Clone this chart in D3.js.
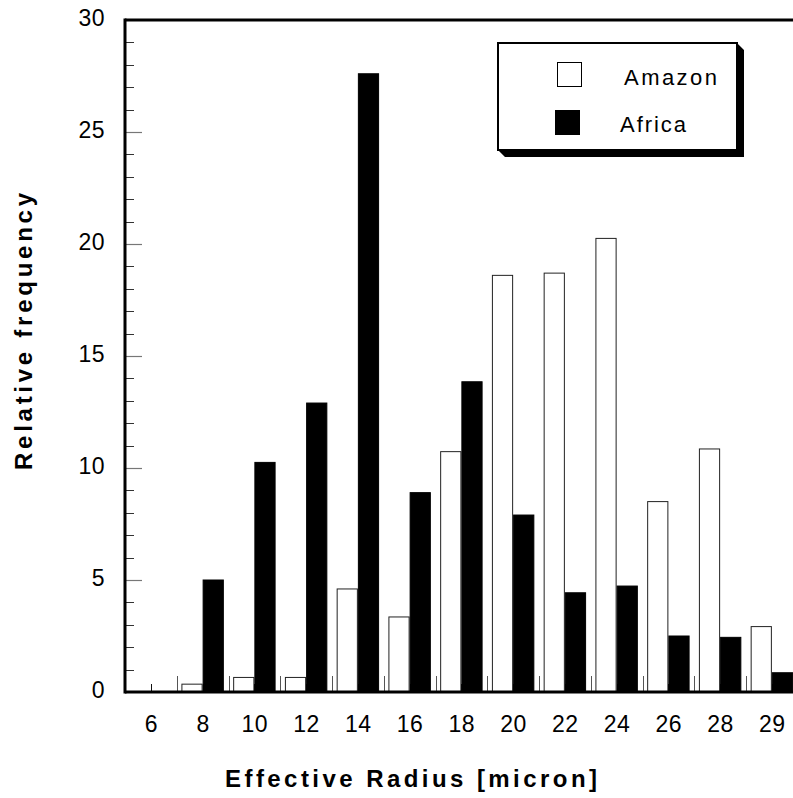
<!DOCTYPE html>
<html>
<head>
<meta charset="utf-8">
<script src="https://cdn.jsdelivr.net/npm/d3@7"></script>
<style>
  html, body { margin: 0; padding: 0; background: #fff; }
  svg { display: block; }
  text { font-family: "Liberation Sans", Arial, sans-serif; fill: #000; }
</style>
</head>
<body>
<svg id="chart" width="793" height="798"></svg>
<script>
// Effective radius classes (micron)
const categories = ["6", "8", "10", "12", "14", "16", "18", "20", "22", "24", "26", "28", "29"];
const seriesNames = ["Amazon", "Africa"];
// Relative frequency (%) per radius class
const amazon = [0, 0.35, 0.65, 0.65, 4.6, 3.35, 10.73, 18.6, 18.7, 20.25, 8.5, 10.85, 2.92];
const africa = [0, 5.0, 10.25, 12.9, 27.6, 8.9, 13.85, 7.9, 4.43, 4.73, 2.5, 2.44, 0.86];
const yTicks = [0, 5, 10, 15, 20, 25, 30];

(function draw() {
  const svg = d3.select("#chart");
  const W = 793;
  const plotLeft = 125, plotTop = 20, plotBottom = 692;
  const step = 51.75;
  const plotRight = plotLeft + step * categories.length;

  const x = d3.scaleBand().domain(categories).range([plotLeft, plotRight])
    .paddingInner(0.18).paddingOuter(0.09);
  const xs = d3.scaleBand().domain(seriesNames).range([0, x.bandwidth()]);
  const y = d3.scaleLinear().domain([0, 30]).range([plotBottom, plotTop]);

  const rows = categories.map((c, i) => ({ cat: c, Amazon: amazon[i], Africa: africa[i] }));

  const g = svg.append("g");

  // category boundary ticks and centre ticks on the x axis
  const bounds = d3.range(categories.length).map(i => plotLeft + i * x.step());
  g.append("g").selectAll("line").data(bounds).join("line")
    .attr("x1", d => Math.round(d) + 0.5).attr("x2", d => Math.round(d) + 0.5)
    .attr("y1", plotBottom).attr("y2", plotBottom - 16)
    .attr("stroke", "#555").attr("stroke-width", 1);
  g.append("g").selectAll("line").data(categories).join("line")
    .attr("x1", d => Math.round(x(d) + x.bandwidth() / 2) + 0.5)
    .attr("x2", d => Math.round(x(d) + x.bandwidth() / 2) + 0.5)
    .attr("y1", plotBottom).attr("y2", plotBottom - 8)
    .attr("stroke", "#111").attr("stroke-width", 1);

  // bars
  const groups = g.append("g").selectAll("g").data(rows).join("g")
    .attr("transform", d => `translate(${x(d.cat)},0)`);
  groups.selectAll("rect").data(d => seriesNames.map(k => ({ key: k, v: d[k] }))).join("rect")
    .attr("x", d => xs(d.key) + 0.5)
    .attr("width", xs.bandwidth() - 1)
    .attr("y", d => y(d.v))
    .attr("height", d => Math.max(0, plotBottom - y(d.v)))
    .attr("fill", d => d.key === "Amazon" ? "#fff" : "#000")
    .attr("stroke", d => d.key === "Amazon" ? "#222" : "#000")
    .attr("stroke-width", 1);

  // y axis ticks (minor every 1, major every 5)
  const minor = d3.range(1, 30).filter(v => v % 5 !== 0);
  g.append("g").selectAll("line").data(minor).join("line")
    .attr("x1", plotLeft).attr("x2", plotLeft + 9)
    .attr("y1", d => Math.round(y(d)) + 0.5).attr("y2", d => Math.round(y(d)) + 0.5)
    .attr("stroke", "#333").attr("stroke-width", 1);
  g.append("g").selectAll("line").data(yTicks.filter(v => v > 0 && v < 30)).join("line")
    .attr("x1", plotLeft).attr("x2", plotLeft + 17)
    .attr("y1", d => Math.round(y(d)) + 0.5).attr("y2", d => Math.round(y(d)) + 0.5)
    .attr("stroke", "#777").attr("stroke-width", 1.2);

  // frame lines: left axis, bottom axis, top line
  g.append("line").attr("x1", plotLeft).attr("x2", plotLeft).attr("y1", plotTop - 1.5).attr("y2", plotBottom + 1.5)
    .attr("stroke", "#000").attr("stroke-width", 3);
  g.append("line").attr("x1", plotLeft).attr("x2", W).attr("y1", plotBottom).attr("y2", plotBottom)
    .attr("stroke", "#000").attr("stroke-width", 3);
  g.append("line").attr("x1", plotLeft).attr("x2", W).attr("y1", plotTop).attr("y2", plotTop)
    .attr("stroke", "#000").attr("stroke-width", 3);

  // y tick labels
  g.append("g").selectAll("text").data(yTicks).join("text")
    .attr("x", 105).attr("y", d => y(d) + 6)
    .attr("text-anchor", "end")
    .style("font-size", "23px").style("letter-spacing", "0.5px")
    .text(d => d);

  // x tick labels
  g.append("g").selectAll("text").data(categories).join("text")
    .attr("x", d => x(d) + x.bandwidth() / 2 + 0.5)
    .attr("y", 732)
    .attr("text-anchor", "middle")
    .style("font-size", "23px").style("letter-spacing", "0.5px")
    .text(d => d);

  // axis titles
  svg.append("text")
    .attr("x", 225).attr("y", 787)
    .attr("textLength", 372).attr("lengthAdjust", "spacing")
    .style("font-size", "24px").style("font-weight", "bold")
    .text("Effective Radius [micron]");
  svg.append("text")
    .attr("transform", "translate(32,470) rotate(-90)")
    .attr("textLength", 277).attr("lengthAdjust", "spacing")
    .style("font-size", "24px").style("font-weight", "bold")
    .text("Relative frequency");

  // legend with drop shadow
  const lg = svg.append("g");
  const L = { x0: 498, y0: 43, x1: 737, y1: 150, s: 7 };
  lg.append("polygon")
    .attr("points", [[L.x1, L.y0], [L.x1 + L.s, L.y0 + L.s], [L.x1 + L.s, L.y1 + L.s],
                     [L.x0 + L.s, L.y1 + L.s], [L.x0, L.y1], [L.x1, L.y1]].map(p => p.join(",")).join(" "))
    .attr("fill", "#000");
  lg.append("rect")
    .attr("x", L.x0).attr("y", L.y0).attr("width", L.x1 - L.x0).attr("height", L.y1 - L.y0)
    .attr("fill", "#fff").attr("stroke", "#000").attr("stroke-width", 2);
  const legendItems = [
    { name: "Amazon", fill: "#fff", sx: 557, sy: 62, tx: 624, ty: 85, len: 93 },
    { name: "Africa", fill: "#000", sx: 555, sy: 110, tx: 620, ty: 132, len: 66 }
  ];
  legendItems.forEach(it => {
    lg.append("rect").attr("x", it.sx + 0.5).attr("y", it.sy + 0.5).attr("width", 24).attr("height", 24)
      .attr("fill", it.fill).attr("stroke", "#000").attr("stroke-width", 1);
    lg.append("text").attr("x", it.tx).attr("y", it.ty)
      .attr("textLength", it.len).attr("lengthAdjust", "spacing")
      .style("font-size", "22px").text(it.name);
  });
})();
</script>
</body>
</html>
